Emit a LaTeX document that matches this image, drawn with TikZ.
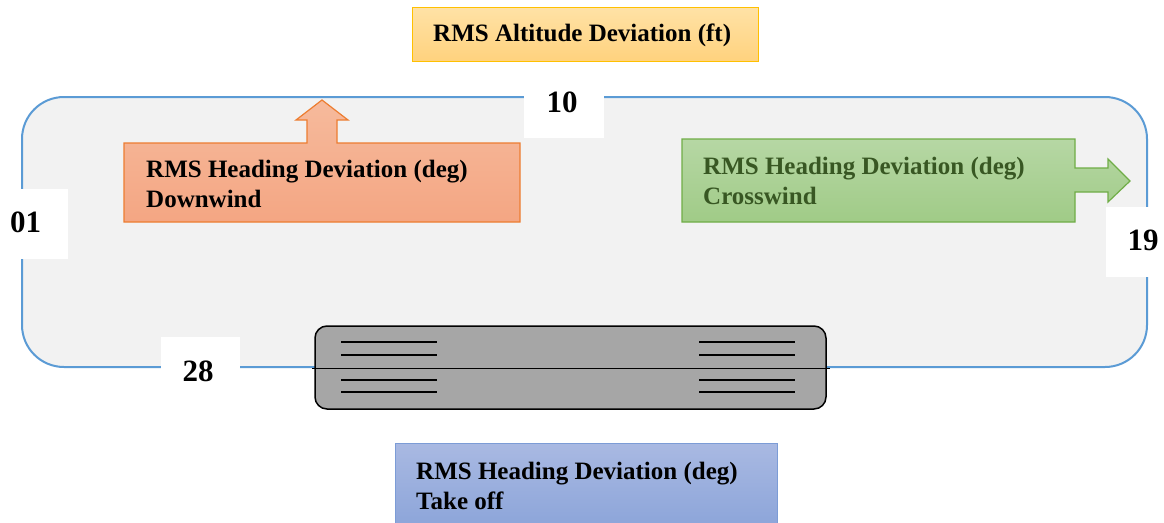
\documentclass[tikz,border=0pt]{standalone}
\usepackage{fontspec}
\setmainfont{Liberation Serif}
\definecolor{frameblue}{HTML}{5B9BD5}
\definecolor{panelgrey}{HTML}{F2F2F2}
\definecolor{yelTop}{HTML}{FFE2A6}
\definecolor{yelBot}{HTML}{FFD27E}
\definecolor{yelLine}{HTML}{FFC000}
\definecolor{oraTop}{HTML}{F6BA9C}
\definecolor{oraBot}{HTML}{F4A683}
\definecolor{oraLine}{HTML}{ED7D31}
\definecolor{grnTop}{HTML}{B6D7A4}
\definecolor{grnBot}{HTML}{A0CB87}
\definecolor{grnLine}{HTML}{70AD47}
\definecolor{grnText}{HTML}{385723}
\definecolor{bluTop}{HTML}{A9B9E2}
\definecolor{bluBot}{HTML}{8BA4D9}
\definecolor{bluLine}{HTML}{4472C4}
\definecolor{runway}{HTML}{A6A6A6}
\tikzset{
  boxtext/.style={font=\fontsize{25}{30}\selectfont\bfseries, inner sep=0pt, anchor=base west},
  numtext/.style={font=\fontsize{31}{36}\selectfont\bfseries, inner sep=0pt, anchor=center},
  numbox/.style={fill=white, draw=none},
  stripe/.style={line width=1.6pt, black},
}
\begin{document}
\begin{tikzpicture}[x=1pt,y=-1pt]
\useasboundingbox (0,0) rectangle (1164,522);
\fill[white] (0,0) rectangle (1164,522);
% pattern frame
\draw[frameblue, line width=2pt, fill=panelgrey, rounded corners=42pt] (22,97) rectangle (1147,367);
% number boxes
\fill[numbox] (524,85) rectangle (604,138);
\fill[numbox] (0,189) rectangle (68,259);
\fill[numbox] (1106,207) rectangle (1164,277);
\fill[numbox] (161,337) rectangle (240,400);
\node[numtext] (n10) at (562,102.5) {10};
\node[numtext] (n01) at (25.5,222) {01};
\node[numtext] (n19) at (1143,240) {19};
\node[numtext] (n28) at (198,371) {28};
% runway
\draw[fill=runway, draw=black, line width=1.5pt, rounded corners=12pt] (315,326) rectangle (826,409);
\draw[black, line width=0.8pt] (312,368) -- (830,368);
\foreach \yy in {342,355,380,392}{
  \draw[stripe] (341,\yy) -- (437,\yy);
  \draw[stripe] (699,\yy) -- (795,\yy);
}
% altitude box
\shade[top color=yelTop, bottom color=yelBot] (412,7) rectangle (758,61);
\draw[yelLine, line width=1pt] (412,7) rectangle (758,61);
\node[boxtext] (alt) at (433,41) {RMS Altitude Deviation (ft)};
% downwind callout
\path[top color=oraTop, bottom color=oraBot, draw=oraLine, line width=1.2pt]
  (124,222) -- (124,143) -- (307,143) -- (307,120) -- (296,120) -- (322,100)
  -- (348,120) -- (337,120) -- (337,143) -- (520,143) -- (520,222) -- cycle;
\node[boxtext, align=left] (down) at (146,177) {\begin{tabular}[t]{@{}l@{}}RMS Heading Deviation (deg)\\Downwind\end{tabular}};
% crosswind callout
\path[top color=grnTop, bottom color=grnBot, draw=grnLine, line width=1.2pt]
  (682,139) -- (1075,139) -- (1075,168) -- (1108,168) -- (1108,159) -- (1130,181)
  -- (1108,202) -- (1108,192) -- (1075,192) -- (1075,222) -- (682,222) -- cycle;
\node[boxtext, text=grnText] (cross) at (703,174) {\begin{tabular}[t]{@{}l@{}}RMS Heading Deviation (deg)\\Crosswind\end{tabular}};
% take off box
\shade[top color=bluTop, bottom color=bluBot] (395,443) rectangle (777,530);
\draw[bluLine!70, line width=1pt] (395,530) -- (395,443) -- (777,443) -- (777,530);
\node[boxtext] (take) at (416,479) {\begin{tabular}[t]{@{}l@{}}RMS Heading Deviation (deg)\\Take off\end{tabular}};
\end{tikzpicture}
\end{document}
